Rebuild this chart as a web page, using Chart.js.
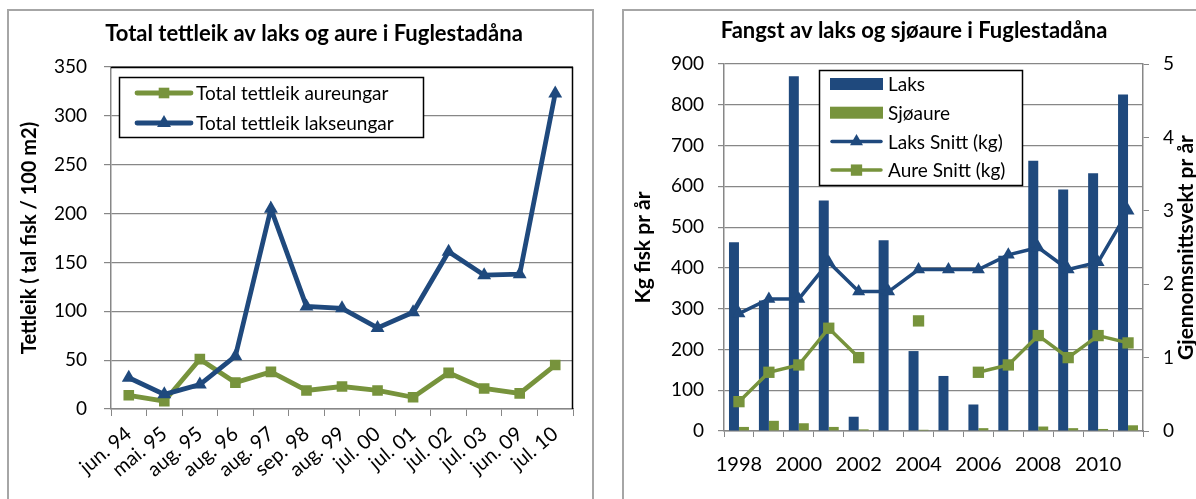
<!DOCTYPE html>
<html>
<head>
<meta charset="utf-8">
<script src="https://cdn.jsdelivr.net/npm/chart.js@4.4.0/dist/chart.umd.min.js"></script>
<style>
  html, body { margin: 0; padding: 0; background: #fff; width: 1196px; height: 499px; overflow: hidden; }
  .kort { position: absolute; border: 2px solid #a6a6a6; background: #fff; }
  #kort-venstre { left: 7px; top: 9px; width: 583px; height: 500px; }
  #kort-hogre { left: 622px; top: 9px; width: 600px; height: 500px; }
  canvas { position: absolute; left: 1px; top: 1px; }
</style>
</head>
<body>
<div class="kort" id="kort-venstre"><canvas id="tettleik" width="580" height="487"></canvas></div>
<div class="kort" id="kort-hogre"><canvas id="fangst" width="571" height="487"></canvas></div>
<script>
// --- Data: tettleik av ungfisk ---
const datoar = ["jun. 94", "mai. 95", "aug. 95", "aug. 96", "aug. 97", "sep. 98", "aug. 99",
                "jul. 00", "jul. 01", "jul. 02", "jul. 03", "jun. 09", "jul. 10"];
const aureungar = [14, 8, 51, 27, 38, 19, 23, 19, 12, 37, 21, 16, 45];
const lakseungar = [32, 15, 25, 54, 205, 105, 103, 83, 99, 161, 137, 138, 323];

// --- Data: fangst ---
const aar = ["1998", "1999", "2000", "2001", "2002", "2003", "2004",
             "2005", "2006", "2007", "2008", "2009", "2010", "2011"];
const laksKg = [463, 320, 870, 565, 35, 468, 196, 135, 65, 430, 663, 592, 632, 825];
const sjoaureKg = [10, 25, 19, 10, 4, 0, 3, 0, 7, 2, 11, 7, 5, 14];
const laksSnitt = [1.6, 1.8, 1.8, 2.3, 1.9, 1.9, 2.2, 2.2, 2.2, 2.4, 2.5, 2.2, 2.3, 3.0];
const aureSnitt = [0.4, 0.8, 0.9, 1.4, 1.0, null, 1.5, null, 0.8, 0.9, 1.3, 1.0, 1.3, 1.2];

const blaa = '#1f497d';
const gronn = '#77933c';
const grid = '#878787';
const skrift = "Lato, 'Open Sans', sans-serif";

Chart.defaults.font.family = skrift;
Chart.defaults.color = '#000';

function teiknMerke(ctx, stil, x, y, r) {
    ctx.beginPath();
    if (stil === 'triangle') {
        ctx.moveTo(x, y - r);
        ctx.lineTo(x + r * 0.866, y + r * 0.5);
        ctx.lineTo(x - r * 0.866, y + r * 0.5);
    } else {
        const s = r * 0.7071;
        ctx.rect(x - s, y - s, 2 * s, 2 * s);
    }
    ctx.closePath();
    ctx.fill();
}

// Legende med kvit boks inne i plottet (som i Excel)
const legendeInni = {
    id: 'legendeInni',
    afterDatasetsDraw(chart, args, o) {
        const ctx = chart.ctx, a = chart.chartArea;
        const bx = Math.round(a.left + o.x), by = Math.round(a.top + o.y);
        ctx.save();
        ctx.fillStyle = '#fff';
        ctx.fillRect(bx, by, o.w, o.h);
        ctx.strokeStyle = '#000';
        ctx.lineWidth = 1.5;
        ctx.strokeRect(bx + 0.5, by + 0.5, o.w, o.h);
        ctx.font = o.font;
        ctx.textBaseline = 'middle';
        o.rader.forEach((idx, i) => {
            const ds = chart.data.datasets[idx];
            const cy = by + o.forsteRad + i * o.radHogd;
            const x0 = bx + o.symbolX, x1 = x0 + o.symbolB;
            if (ds.type === 'bar') {
                ctx.fillStyle = ds.backgroundColor;
                ctx.fillRect(x0, cy - 6, o.symbolB, 12);
            } else {
                ctx.strokeStyle = ds.borderColor;
                ctx.lineWidth = ds.borderWidth;
                ctx.lineCap = 'round';
                ctx.beginPath();
                ctx.moveTo(x0 + 2, cy);
                ctx.lineTo(x1 - 2, cy);
                ctx.stroke();
                ctx.fillStyle = ds.borderColor;
                teiknMerke(ctx, ds.pointStyle, (x0 + x1) / 2, cy, ds.pointRadius);
            }
            ctx.fillStyle = '#000';
            ctx.fillText(ds.label, bx + o.tekstX, cy + 1);
        });
        ctx.restore();
    }
};

// Svart ramme oppe og til høgre rundt plottet
const plotRamme = {
    id: 'plotRamme',
    beforeDatasetsDraw(chart, args, o) {
        if (!o.vis) return;
        const ctx = chart.ctx, a = chart.chartArea;
        ctx.save();
        ctx.strokeStyle = '#000';
        ctx.lineWidth = 1.5;
        ctx.beginPath();
        ctx.moveTo(a.left, a.top + 0.5);
        ctx.lineTo(a.right - 0.5, a.top + 0.5);
        ctx.lineTo(a.right - 0.5, a.bottom);
        ctx.stroke();
        ctx.restore();
    }
};

// Overskrift og tittel på høgre akse (lesen nedanfrå og opp)
const tekstar = {
    id: 'tekstar',
    afterDraw(chart, args, o) {
        const ctx = chart.ctx, a = chart.chartArea;
        ctx.save();
        ctx.fillStyle = '#000';
        ctx.textAlign = 'center';
        ctx.textBaseline = 'middle';
        ctx.font = o.tittelFont;
        ctx.fillText(o.tittel, o.tittelX, o.tittelY);
        if (o.hogre) {
            ctx.translate(o.hogreX, (a.top + a.bottom) / 2);
            ctx.rotate(-Math.PI / 2);
            ctx.font = o.aksFont;
            ctx.fillText(o.hogre, 0, 0);
        }
        ctx.restore();
    }
};

// ==========================================
// Venstre: Total tettleik
// ==========================================
new Chart(document.getElementById('tettleik'), {
    type: 'line',
    data: {
        labels: datoar,
        datasets: [
            {
                label: 'Total tettleik aureungar',
                data: aureungar,
                borderColor: gronn, backgroundColor: gronn,
                borderWidth: 4.8, pointStyle: 'rect', pointRadius: 7.5,
                pointBorderWidth: 0, tension: 0, order: 1
            },
            {
                label: 'Total tettleik lakseungar',
                data: lakseungar,
                borderColor: blaa, backgroundColor: blaa,
                borderWidth: 4.8, pointStyle: 'triangle', pointRadius: 8,
                pointBorderWidth: 0, tension: 0, order: 0
            }
        ]
    },
    options: {
        responsive: false,
        animation: false,
        layout: { padding: { left: 0, right: 17, top: 55, bottom: 0 } },
        plugins: {
            legend: { display: false },
            tooltip: { enabled: false },
            title: { display: false },
            tekstar: {
                tittel: 'Total tettleik av laks og aure i Fuglestadåna',
                tittelX: 304, tittelY: 22,
                tittelFont: 'bold 22px ' + skrift
            },
            plotRamme: { vis: true },
            legendeInni: {
                x: 8, y: 10, w: 304, h: 60,
                forsteRad: 16, radHogd: 30,
                symbolX: 16, symbolB: 58, tekstX: 77,
                font: '19px ' + skrift,
                rader: [0, 1]
            }
        },
        scales: {
            x: {
                offset: true,
                grid: { offset: true, drawOnChartArea: false, drawTicks: true, tickLength: 7, color: grid },
                border: { color: grid, width: 1.5 },
                ticks: { autoSkip: false, minRotation: 40, maxRotation: 40, padding: 6, font: { size: 20 } },
                afterFit: s => { s.height = 90; }
            },
            y: {
                min: 0, max: 350,
                ticks: { stepSize: 50, padding: 17, font: { size: 19 } },
                grid: { color: grid, tickLength: 7, lineWidth: 1.2 },
                border: { color: grid, width: 1.5 },
                title: {
                    display: true,
                    text: 'Tettleik ( tal fisk / 100 m2)',
                    font: { size: 20, weight: 'bold' },
                    padding: { top: 8, bottom: 0 }
                },
                afterFit: s => { s.width = 101; }
            }
        }
    },
    plugins: [plotRamme, legendeInni, tekstar]
});

// ==========================================
// Høgre: Fangst av laks og sjøaure
// ==========================================
new Chart(document.getElementById('fangst'), {
    type: 'bar',
    data: {
        labels: aar,
        datasets: [
            {
                type: 'bar', label: 'Laks', data: laksKg,
                backgroundColor: blaa, yAxisID: 'y', order: 2,
                categoryPercentage: 0.667, barPercentage: 1
            },
            {
                type: 'bar', label: 'Sjøaure', data: sjoaureKg,
                backgroundColor: gronn, yAxisID: 'y', order: 2,
                categoryPercentage: 0.667, barPercentage: 1
            },
            {
                type: 'line', label: 'Laks Snitt (kg)', data: laksSnitt,
                borderColor: blaa, backgroundColor: blaa, yAxisID: 'y1',
                borderWidth: 3.5, pointStyle: 'triangle', pointRadius: 7.5,
                pointBorderWidth: 0, tension: 0, order: 0
            },
            {
                type: 'line', label: 'Aure Snitt (kg)', data: aureSnitt,
                borderColor: gronn, backgroundColor: gronn, yAxisID: 'y1',
                borderWidth: 3.5, pointStyle: 'rect', pointRadius: 8,
                pointBorderWidth: 0, tension: 0, spanGaps: false, order: 1
            }
        ]
    },
    options: {
        responsive: false,
        animation: false,
        layout: { padding: { left: 0, right: 0, top: 52, bottom: 0 } },
        plugins: {
            legend: { display: false },
            tooltip: { enabled: false },
            title: { display: false },
            tekstar: {
                tittel: 'Fangst av laks og sjøaure i Fuglestadåna',
                tittelX: 289, tittelY: 19,
                tittelFont: 'bold 22px ' + skrift,
                hogre: 'Gjennomsnittsvekt pr år',
                hogreX: 561,
                aksFont: 'bold 21px ' + skrift
            },
            legendeInni: {
                x: 95, y: 6, w: 203, h: 115,
                forsteRad: 14, radHogd: 28.7,
                symbolX: 11, symbolB: 53, tekstX: 69,
                font: '19px ' + skrift,
                rader: [0, 1, 2, 3]
            }
        },
        scales: {
            x: {
                grid: { offset: true, drawOnChartArea: false, drawTicks: true, tickLength: 6, color: grid },
                border: { color: grid, width: 1.5 },
                ticks: {
                    autoSkip: false, maxRotation: 0, padding: 16, font: { size: 20 },
                    callback: (v, i) => (i % 2 === 0 ? aar[i] : '')
                },
                afterFit: s => { s.height = 68; }
            },
            y: {
                position: 'left',
                min: 0, max: 900,
                ticks: { stepSize: 100, padding: 14, font: { size: 19 } },
                grid: { color: grid, tickLength: 6, lineWidth: 1.2 },
                border: { color: grid, width: 1.5 },
                title: {
                    display: true,
                    text: 'Kg fisk pr år',
                    font: { size: 21, weight: 'bold' },
                    padding: { top: 6, bottom: 0 }
                },
                afterFit: s => { s.width = 99; }
            },
            y1: {
                position: 'right',
                min: 0, max: 5,
                ticks: { stepSize: 1, padding: 14, font: { size: 19 } },
                grid: { drawOnChartArea: false, tickLength: 6, color: grid },
                border: { color: grid, width: 1.5 },
                afterFit: s => { s.width = 53; }
            }
        }
    },
    plugins: [legendeInni, tekstar]
});
</script>
</body>
</html>
